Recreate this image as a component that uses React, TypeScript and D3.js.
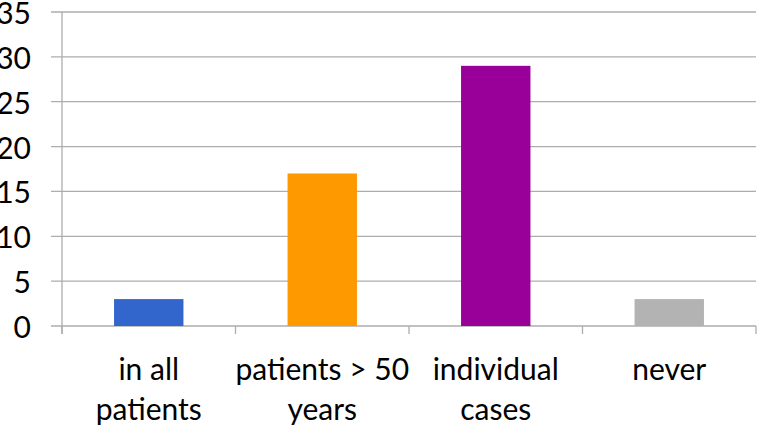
import React from "react";
import * as d3 from "d3";

const categories: string[][] = [
  ["in all", "patients"],
  ["patients > 50", "years"],
  ["individual", "cases"],
  ["never"],
];
const values: number[] = [3, 17, 29, 3];
const colors: string[] = ["#3366CC", "#FF9900", "#990099", "#B3B3B3"];
const yTicks: number[] = [0, 5, 10, 15, 20, 25, 30, 35];

const W = 757;
const H = 434;
const left = 62;
const right = 756;
const top = 12;
const bottom = 326;
const FONT = "Lato, 'Open Sans', sans-serif";
const GRID = "#ADADAD";

export default function App() {
  const x = d3
    .scaleBand<number>()
    .domain(values.map((_, i) => i))
    .range([left, right])
    .paddingInner(0.6)
    .paddingOuter(0.3);
  const y = d3.scaleLinear().domain([0, 35]).range([bottom, top]);
  const step = x.step();
  const boundaries = d3.range(values.length + 1).map((i) => left + i * step);

  return (
    <svg
      width={W}
      height={H}
      style={{ position: "absolute", left: 0, top: 0, background: "#fff" }}
    >
      {yTicks.map((t) => (
        <g key={t}>
          <line
            x1={51}
            x2={right}
            y1={y(t)}
            y2={y(t)}
            stroke={GRID}
            strokeWidth={1.3}
          />
          <text
            x={31}
            y={y(t)}
            textAnchor="end"
            dominantBaseline="central"
            fontFamily={FONT}
            fontSize={30}
            fill="#000"
          >
            {t}
          </text>
        </g>
      ))}
      <line x1={left} x2={left} y1={top} y2={334} stroke={GRID} strokeWidth={1.3} />
      {boundaries.map((b, i) => (
        <line key={i} x1={b} x2={b} y1={bottom} y2={334} stroke={GRID} strokeWidth={1.3} />
      ))}
      {values.map((v, i) => (
        <rect
          key={i}
          x={x(i)}
          y={y(v)}
          width={x.bandwidth()}
          height={y(0) - y(v)}
          fill={colors[i]}
        />
      ))}
      {categories.map((lines, i) => (
        <text
          key={i}
          x={(x(i) as number) + x.bandwidth() / 2}
          textAnchor="middle"
          fontFamily={FONT}
          fontSize={30}
          fill="#000"
        >
          {lines.map((l, j) => (
            <tspan key={j} x={(x(i) as number) + x.bandwidth() / 2} y={380 + j * 40}>
              {l}
            </tspan>
          ))}
        </text>
      ))}
    </svg>
  );
}
